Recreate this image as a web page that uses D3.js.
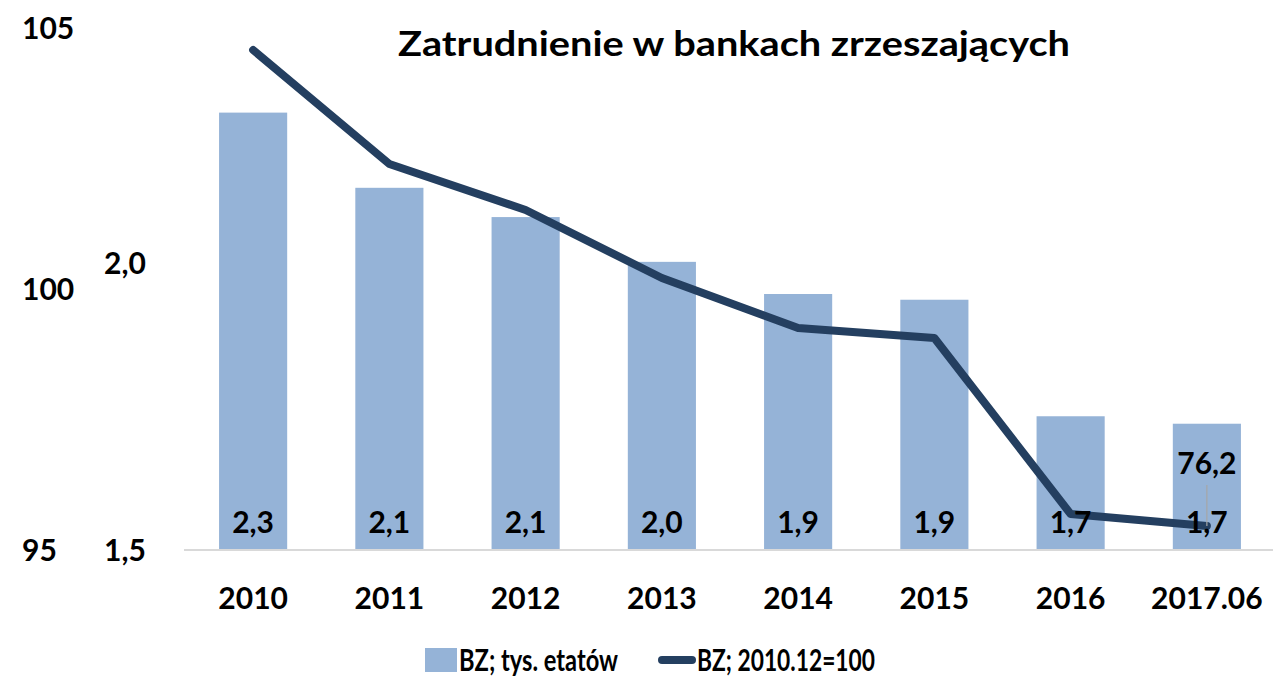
<!DOCTYPE html>
<html><head><meta charset="utf-8">
<script src="https://cdn.jsdelivr.net/npm/d3@7"></script>
<style>
html,body{margin:0;padding:0;background:#fff;}
text{font-family:Lato, "Open Sans", sans-serif;font-weight:bold;fill:#000;}
</style></head>
<body><svg id="c" width="1273" height="678"></svg>
<script>
const categories = ["2010","2011","2012","2013","2014","2015","2016","2017.06"];
const barValues = [2.262, 2.131, 2.080, 2.002, 1.946, 1.936, 1.733, 1.720];
const lineValues = [100, 94.3, 92.0, 88.6, 86.1, 85.6, 76.8, 76.2];
const leftTicks = [95, 100, 105];
const barTicks = [1.5, 2.0];
const title = "Zatrudnienie w bankach zrzeszających";
const legendLabels = ["BZ; tys. etatów", "BZ; 2010.12=100"];

const svg = d3.select("#c");
const barColor = "#95b3d7", lineColor = "#243f60";
const fmt = v => v.toFixed(1).replace(".", ",");

const x = d3.scaleBand().domain(categories).range([185, 1275]).paddingInner(0.5).paddingOuter(0.25);
const yLeft = d3.scaleLinear().domain([95, 105]).range([550, 28]);
const yBar = d3.scaleLinear().domain([1.5, 2.0]).range([550, 263]);
const yLine = d3.scaleLinear().domain([75, 100]).range([550, 50]);

// title
svg.append("text").attr("x", 734).attr("y", 56).attr("text-anchor", "middle")
  .attr("font-size", 35).attr("textLength", 672).attr("lengthAdjust", "spacingAndGlyphs").text(title);

// left axis labels (outer)
const axL = svg.append("g").attr("transform", "translate(22,0)")
  .call(d3.axisLeft(yLeft).tickValues(leftTicks).tickSize(0).tickPadding(0).tickFormat(d => d));
axL.select(".domain").remove();
axL.selectAll("text").attr("text-anchor", "start").attr("font-size", 30).attr("font-family", null).attr("dy", "0.36em");

// bar axis labels (inner)
const axB = svg.append("g").attr("transform", "translate(104,0)")
  .call(d3.axisLeft(yBar).tickValues(barTicks).tickSize(0).tickPadding(0).tickFormat(fmt));
axB.select(".domain").remove();
axB.selectAll("text").attr("text-anchor", "start").attr("font-size", 30).attr("font-family", null).attr("dy", "0.36em");

// bars
svg.append("g").selectAll("rect").data(categories).join("rect")
  .attr("x", d => x(d)).attr("width", x.bandwidth())
  .attr("y", (d, i) => yBar(barValues[i])).attr("height", (d, i) => yBar(1.5) - yBar(barValues[i]))
  .attr("fill", barColor);

// baseline / x axis
const axX = svg.append("g").attr("transform", "translate(0,550)")
  .call(d3.axisBottom(x).tickSize(0).tickPadding(0));
axX.select(".domain").attr("stroke", "#d9d9d9").attr("stroke-width", 2).attr("d", "M184,0H1273");
axX.selectAll("text").attr("font-size", 30).attr("font-family", null).attr("y", 59).attr("dy", 0);

// line
const lineGen = d3.line().x((d, i) => x(categories[i]) + x.bandwidth() / 2).y(d => yLine(d));
svg.append("path").datum(lineValues).attr("d", lineGen)
  .attr("fill", "none").attr("stroke", lineColor).attr("stroke-width", 8)
  .attr("stroke-linejoin", "round").attr("stroke-linecap", "round");

// leader line + line label for last point
const lastI = categories.length - 1;
const lx = x(categories[lastI]) + x.bandwidth() / 2;
svg.append("line").attr("x1", lx).attr("x2", lx).attr("y1", 485).attr("y2", yLine(lineValues[lastI]))
  .attr("stroke", "#a6a6a6").attr("stroke-width", 1.2);
svg.append("text").attr("x", lx).attr("y", 474).attr("text-anchor", "middle").attr("font-size", 30)
  .text(fmt(lineValues[lastI]));

// bar labels
svg.append("g").selectAll("text").data(categories).join("text")
  .attr("x", d => x(d) + x.bandwidth() / 2).attr("y", 533).attr("text-anchor", "middle")
  .attr("font-size", 30).text((d, i) => fmt(barValues[i]));

// legend
const lg = svg.append("g");
lg.append("rect").attr("x", 425).attr("y", 648).attr("width", 32).attr("height", 24).attr("fill", barColor);
lg.append("text").attr("x", 459).attr("y", 671).attr("font-size", 31).attr("textLength", 159).attr("lengthAdjust", "spacingAndGlyphs").text(legendLabels[0]);
lg.append("line").attr("x1", 662).attr("x2", 692).attr("y1", 660).attr("y2", 660)
  .attr("stroke", lineColor).attr("stroke-width", 8).attr("stroke-linecap", "round");
lg.append("text").attr("x", 697).attr("y", 671).attr("font-size", 31).attr("textLength", 178).attr("lengthAdjust", "spacingAndGlyphs").text(legendLabels[1]);
</script></body></html>
